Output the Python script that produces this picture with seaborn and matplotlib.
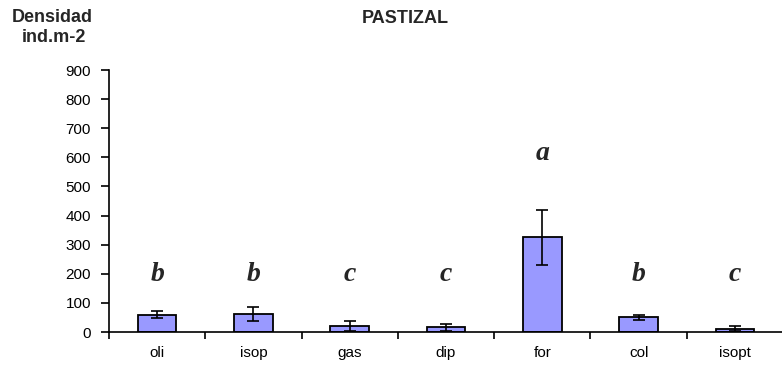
import matplotlib
matplotlib.use("Agg")
import matplotlib.pyplot as plt
import seaborn as sns
import numpy as np
import pandas as pd

categories = ["oli", "isop", "gas", "dip", "for", "col", "isopt"]
values = [60, 62, 20, 17, 325, 50, 11]
errors = [13, 24, 18, 12, 95, 10, 8]
letters = ["b", "b", "c", "c", "a", "b", "c"]
letter_y = [176, 176, 176, 176, 591, 176, 176]
yticks = [0, 100, 200, 300, 400, 500, 600, 700, 800, 900]

sns.set_theme(style="white")
plt.rcParams['font.family'] = ['Liberation Sans', 'DejaVu Sans']

fig = plt.figure(figsize=(7.82, 3.66), dpi=100)
ax = fig.add_axes([109/782, 1-332/366, 674/782, 262/366])

df = pd.DataFrame({"cat": categories, "val": values})
sns.barplot(data=df, x="cat", y="val", color="#9999FF", edgecolor="black",
            linewidth=1.3, width=0.4, saturation=1, ax=ax, zorder=2)
ax.errorbar(np.arange(len(categories)), values, yerr=errors, fmt="none",
            ecolor="black", elinewidth=1.2, capsize=4, capthick=1.2, zorder=3)

for i, (l, ly) in enumerate(zip(letters, letter_y)):
    ax.text(i, ly, l, ha="center", va="baseline", fontsize=20,
            fontweight="bold", fontstyle="italic", family="Liberation Serif")

ax.set_xlim(-0.5, len(categories) - 0.5)
ax.set_ylim(0, 900)
ax.set_yticks(yticks)
ax.set_xlabel("")
ax.set_ylabel("")
ax.set_xticks(np.arange(len(categories)))
ax.set_xticklabels(categories)
ax.set_xticks(np.arange(-0.5, len(categories), 1.0), minor=True)
ax.tick_params(axis="x", which="major", length=0, pad=10, labelsize=11, colors="black")
ax.tick_params(axis="x", which="minor", length=5, width=1.2, direction="out",
               color="black", bottom=True)
ax.tick_params(axis="y", which="major", length=6, width=1.2, direction="out",
               pad=7, labelsize=11, colors="black", left=True)

for s in ["top", "right"]:
    ax.spines[s].set_visible(False)
for s in ["left", "bottom"]:
    ax.spines[s].set_color("black")
    ax.spines[s].set_linewidth(1.2)
ax.spines["bottom"].set_zorder(4)

fig.text(405/782, 1-18.5/366, "PASTIZAL", ha="center", va="center",
         fontsize=13, fontweight="bold")
fig.text(52/782, 1-17/366, "Densidad", ha="center", va="center",
         fontsize=13, fontweight="bold")
fig.text(54/782, 1-38/366, "ind.m-2", ha="center", va="center",
         fontsize=13, fontweight="bold")

fig.savefig("out.png", dpi=100)
